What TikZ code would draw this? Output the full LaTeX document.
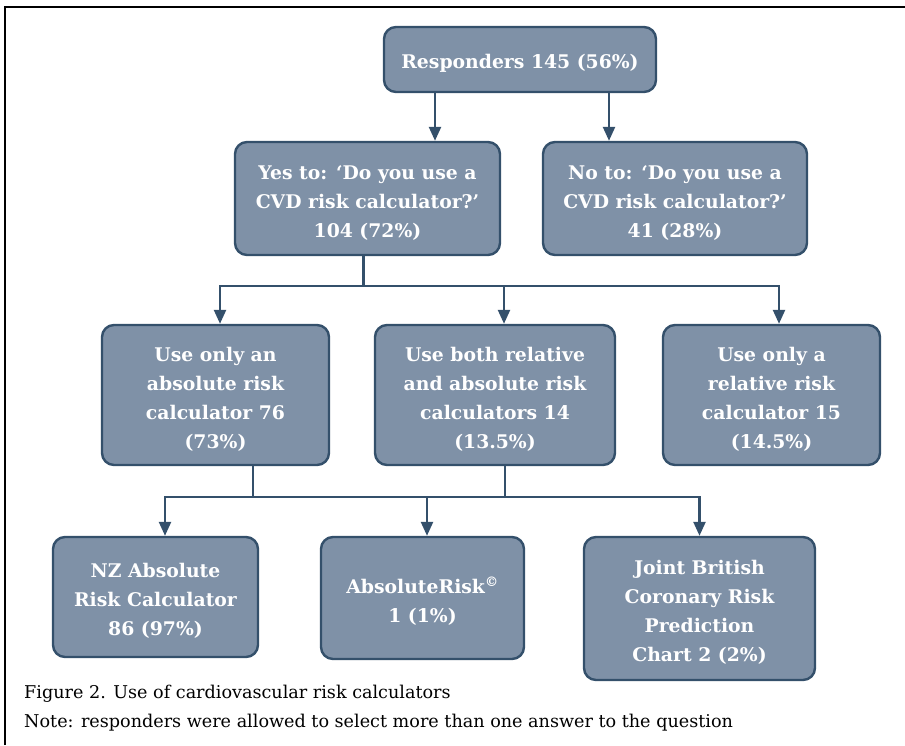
\documentclass[tikz,border=0pt]{standalone}
\usepackage{fontspec}
\setmainfont{DejaVu Serif}
\usetikzlibrary{arrows.meta,calc}
\definecolor{boxfill}{HTML}{7F91A7}
\definecolor{boxline}{HTML}{34506B}
\newcommand\tp{\rule{0pt}{22pt}}
\begin{document}
\begin{tikzpicture}[x=1pt,y=-1pt,
  box/.style={draw=boxline,fill=boxfill,line width=2.4pt,rounded corners=12pt,
    text=white,align=center,inner sep=0pt,
    font=\fontsize{18.8}{29}\selectfont\bfseries},
  conn/.style={draw=boxline,line width=2.4pt},
  arr/.style={conn,-{Triangle[length=14pt,width=12pt]}},
  captxt/.style={anchor=base west,inner sep=0pt,font=\fontsize{17.6}{22}\selectfont}]
\useasboundingbox (0,0) rectangle (905,745);
\draw[line width=1.3pt] (5,745) -- (5,7) -- (905,7);
\node[box,minimum width=272pt,minimum height=65pt] (resp) at (520,59.5) {\tp Responders 145 (56\%)};
\node[box,minimum width=265pt,minimum height=113pt] (yes) at (367.5,198.5) {\tp Yes to: ‘Do you use a\\CVD risk calculator?’\\104 (72\%)};
\node[box,minimum width=264pt,minimum height=113pt] (no) at (675,198.5) {\tp No to: ‘Do you use a\\CVD risk calculator?’\\41 (28\%)};
\node[box,minimum width=227pt,minimum height=140pt] (abs) at (215.5,395) {\tp Use only an\\absolute risk\\calculator 76\\(73\%)};
\node[box,minimum width=240pt,minimum height=140pt] (both) at (495,395) {\tp Use both relative\\and absolute risk\\calculators 14\\(13.5\%)};
\node[box,minimum width=217pt,minimum height=140pt] (rel) at (771.5,395) {\tp Use only a\\relative risk\\calculator 15\\(14.5\%)};
\node[box,minimum width=205pt,minimum height=120pt] (nz) at (155.5,597) {\tp NZ Absolute\\Risk Calculator\\86 (97\%)};
\node[box,minimum width=203pt,minimum height=122pt] (ar) at (422.5,598) {\tp AbsoluteRisk\textsuperscript{©}\\1 (1\%)};
\node[box,minimum width=231pt,minimum height=143pt] (jb) at (699.5,608.5) {\tp Joint British\\Coronary Risk\\Prediction\\Chart 2 (2\%)};
% level 1
\draw[arr] ([xshift=-85pt]resp.south) -- ([xshift=-85pt]resp.south |- yes.north);
\draw[arr] ([xshift=89pt]resp.south) -- ([xshift=89pt]resp.south |- no.north);
% level 2
\coordinate (j1) at ([xshift=-4pt]yes.south |- 0,286);
\coordinate (l1) at ([xshift=4.5pt]abs.north |- j1);
\coordinate (m1) at ([xshift=9pt]both.north |- j1);
\coordinate (r1) at ([xshift=7.5pt]rel.north |- j1);
\draw[conn] ([xshift=-4pt]yes.south) -- (j1);
\draw[arr,line join=miter] (j1) -- (l1) -- (l1 |- abs.north);
\draw[arr] (m1) -- (m1 |- both.north);
\draw[arr,line join=miter] (j1) -- (r1) -- (r1 |- rel.north);
% level 3
\coordinate (j2) at ([xshift=37.5pt]abs.south |- 0,497);
\coordinate (j3) at ([xshift=10pt]both.south |- 0,497);
\coordinate (l2) at ([xshift=9.5pt]nz.north |- j2);
\coordinate (m2) at ([xshift=4.5pt]ar.north |- j2);
\coordinate (r2) at (jb.north |- j2);
\draw[conn] ([xshift=37.5pt]abs.south) -- (j2);
\draw[conn] ([xshift=10pt]both.south) -- (j3);
\draw[arr,line join=miter] (j2) -- (l2) -- (l2 |- nz.north);
\draw[arr] (m2) -- (m2 |- ar.north);
\draw[arr,line join=miter] (j2) -- (r2) -- (r2 |- jb.north);
% caption
\node[captxt] (cap1) at (24,698) {Figure 2. Use of cardiovascular risk calculators};
\node[captxt] (cap2) at (24,727) {Note: responders were allowed to select more than one answer to the question};
\end{tikzpicture}
\end{document}
